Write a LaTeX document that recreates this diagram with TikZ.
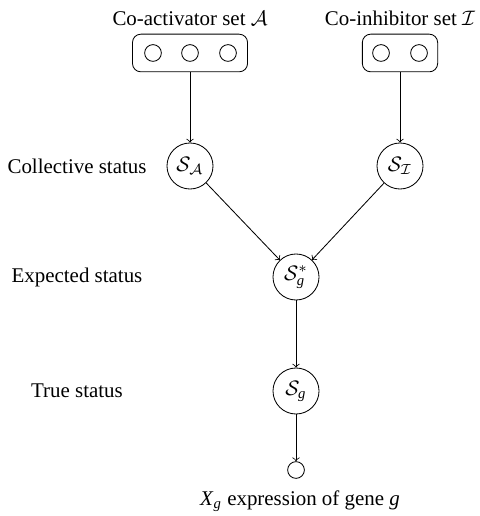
\documentclass[tikz,border=0pt]{standalone}
\usepackage{amsmath}
\usepackage{amssymb}
\usepackage{fontspec}
\setmainfont{Liberation Serif}
\usepackage{tikz}
\usetikzlibrary{shapes, arrows, positioning, calc}

\tikzset{
  statnode/.style={draw, circle, minimum size=22pt, inner sep=0pt},
  obsnode/.style={draw, circle, minimum size=8pt, inner sep=0pt},
  setbox/.style={draw, rounded corners=4pt, minimum height=18pt, inner sep=0pt},
  lbl/.style={font=\normalsize}
}

\begin{document}
\begin{tikzpicture}[x=0.478pt, y=-0.478pt, >=to]
            % cadre de l'image (pixels)
            \useasboundingbox (0,0) rectangle (479,516);
            % ensembles de co-regulateurs
            \node[setbox, minimum width=55pt] (setA) at (190,53) {};
            \node[setbox, minimum width=36pt] (setI) at (400,53) {};
            \node[obsnode] (a1) at (153,53) {};
            \node[obsnode] (a2) at (190,53) {};
            \node[obsnode] (a3) at (228,53) {};
            \node[obsnode] (i1) at (381,53) {};
            \node[obsnode] (i2) at (419,53) {};
            \node[lbl] (labA) at (190,18) {Co-activator set $\mathcal{A}$};
            \node[lbl] (labI) at (400,18) {Co-inhibitor set $\mathcal{I}$};
            % noeuds de statut
            \node[statnode] (SA) at (190,166) {$\mathcal{S}_{\mathcal{A}}$};
            \node[statnode] (SI) at (400,166) {$\mathcal{S}_{\mathcal{I}}$};
            \node[statnode] (Sstar) at (296,277) {$\mathcal{S}_{\textit{g}}^{*}$};
            \node[statnode] (Sg) at (296,391) {$\mathcal{S}_{\textit{g}}$};
            \node[obsnode] (Xg) at (296,470) {};
            \node[lbl] (labX) at (300,501) {\textit{X}\textsubscript{\textit{g}} expression of gene \textit{g}};
            % etiquettes a gauche
            \node[lbl] (lab1) at (77,166) {Collective status};
            \node[lbl] (lab2) at (77,277) {Expected status};
            \node[lbl] (lab3) at (77,391) {True status};
            % fleches
            \draw[->] (setA) -- (SA);
            \draw[->] (setI) -- (SI);
            \draw[->] (SA) -- (Sstar);
            \draw[->] (SI) -- (Sstar);
            \draw[->] (Sstar) -- (Sg);
            \draw[->] (Sg) -- (Xg);
        \end{tikzpicture}
\end{document}
